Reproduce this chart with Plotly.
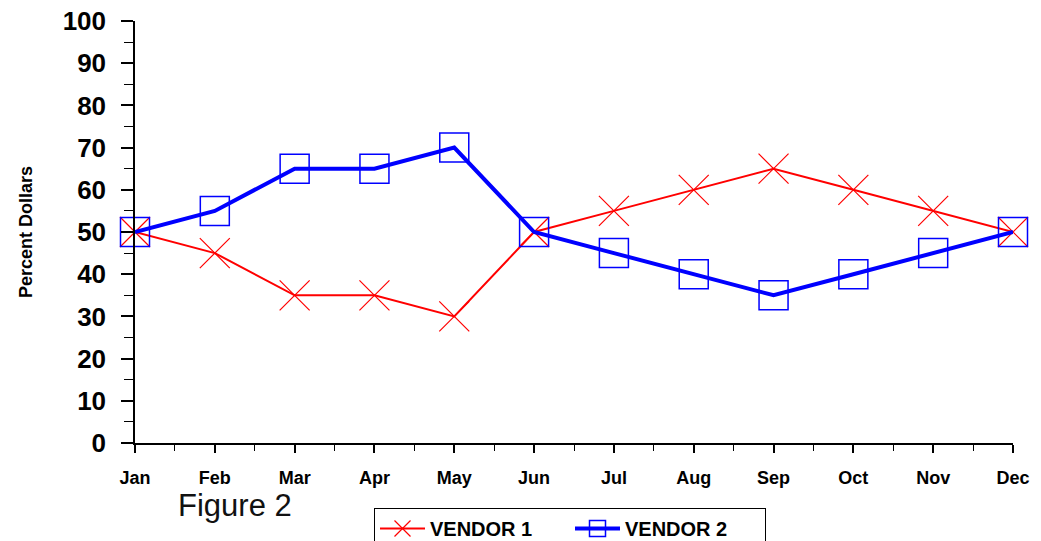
import plotly.graph_objects as go

months = ["Jan", "Feb", "Mar", "Apr", "May", "Jun", "Jul", "Aug", "Sep", "Oct", "Nov", "Dec"]
vendor1 = [50, 45, 35, 35, 30, 50, 55, 60, 65, 60, 55, 50]
vendor2 = [50, 55, 65, 65, 70, 50, 45, 40, 35, 40, 45, 50]
x_idx = list(range(len(months)))

FONT = "Arial, Liberation Sans, sans-serif"

# page body adds an 8px offset; positions below are in figure pixels
OFF = 8
W, H = 1041, 541
ML = 135 - OFF
MT = 21 - OFF
PR = 1013 - OFF          # plot right edge
PB = 443 - OFF           # plot bottom edge
MR = W - PR
MB = H - PB
pw = W - ML - MR
ph = H - MT - MB


def px_x(px):
    return (px - OFF - ML) / pw


def px_y(py):
    return (PB - (py - OFF)) / ph


fig = go.Figure()
fig.add_trace(go.Scatter(
    x=x_idx, y=vendor1, name="VENDOR 1", mode="lines+markers",
    line=dict(color="#FF0000", width=2),
    marker=dict(symbol="x-thin-open", size=30, color="#FF0000",
                line=dict(color="#FF0000", width=1.2)),
    cliponaxis=False,
))
fig.add_trace(go.Scatter(
    x=x_idx, y=vendor2, name="VENDOR 2", mode="lines+markers",
    line=dict(color="#0000FF", width=4),
    marker=dict(symbol="square-open", size=29, color="#0000FF",
                line=dict(color="#0000FF", width=1.5)),
    cliponaxis=False,
))

fig.update_layout(
    width=W, height=H,
    paper_bgcolor="white", plot_bgcolor="white",
    margin=dict(l=ML, r=MR, t=MT, b=MB, autoexpand=False),
    font=dict(family=FONT, color="black"),
    showlegend=True,
    legend=dict(
        orientation="h", x=px_x(374), xanchor="left", y=px_y(508), yanchor="top",
        bordercolor="black", borderwidth=1, bgcolor="white",
        font=dict(family=FONT, size=20, weight="bold", color="black"),
        itemwidth=45, entrywidth=135, entrywidthmode="pixels", tracegroupgap=0,
    ),
    xaxis=dict(
        range=[0, 11], tickvals=x_idx, ticktext=months,
        showgrid=False, zeroline=False, automargin=False,
        showline=True, linecolor="black", linewidth=1.5,
        ticks="outside", ticklen=8, tickcolor="black", tickwidth=1.5,
        ticklabelstandoff=10, ticklabeloverflow="allow",
        tickfont=dict(family=FONT, size=18, weight="bold", color="black"),
        minor=dict(dtick=0.5, tick0=0, ticks="outside", ticklen=6,
                   tickcolor="black", tickwidth=1),
    ),
    yaxis=dict(
        range=[0, 100], tickvals=list(range(0, 101, 10)),
        showgrid=False, zeroline=False, automargin=False,
        showline=True, linecolor="black", linewidth=1.5,
        ticks="outside", ticklen=12, tickcolor="black", tickwidth=1.5,
        ticklabelstandoff=10, ticklabeloverflow="allow",
        tickfont=dict(family=FONT, size=26, weight="bold", color="black"),
        title=dict(text="Percent Dollars", standoff=25,
                   font=dict(family=FONT, size=18, weight="bold", color="black")),
        minor=dict(dtick=5, tick0=0, ticks="outside", ticklen=9,
                   tickcolor="black", tickwidth=1),
    ),
    annotations=[dict(
        text="Figure 2", x=px_x(235), y=px_y(506), xref="paper", yref="paper",
        xanchor="center", yanchor="middle",
        showarrow=False, font=dict(family=FONT, size=31, color="#111111"),
    )],
)

fig.write_html("out.html")
